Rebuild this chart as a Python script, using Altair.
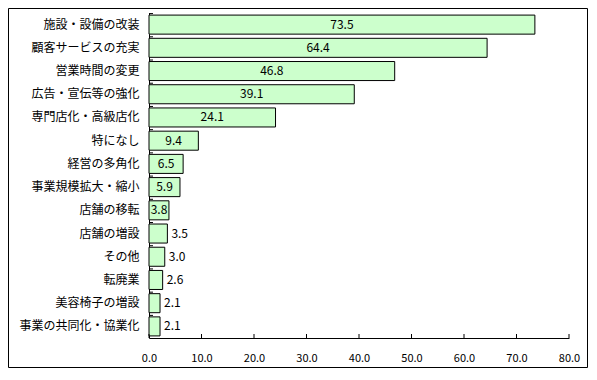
import altair as alt
import pandas as pd

categories = [
    "施設・設備の改装",
    "顧客サービスの充実",
    "営業時間の変更",
    "広告・宣伝等の強化",
    "専門店化・高級店化",
    "特になし",
    "経営の多角化",
    "事業規模拡大・縮小",
    "店舗の移転",
    "店舗の増設",
    "その他",
    "転廃業",
    "美容椅子の増設",
    "事業の共同化・協業化",
]
values = [73.5, 64.4, 46.8, 39.1, 24.1, 9.4, 6.5, 5.9, 3.8, 3.5, 3.0, 2.6, 2.1, 2.1]
x_ticks = [0, 10, 20, 30, 40, 50, 60, 70, 80]

FONT = "Noto Sans CJK JP"
W, H = 420, 325
PAD_L, PAD_T, PAD_R, PAD_B = 141, 5, 19, 30
TOTAL_W = PAD_L + W + PAD_R
TOTAL_H = PAD_T + H + PAD_B

df = pd.DataFrame({"item": categories, "value": values})
base = alt.Chart(df)

y_scale = alt.Scale(paddingInner=0.18, paddingOuter=0.09)
y_enc = alt.Y(
    "item:N",
    sort=categories,
    scale=y_scale,
    axis=alt.Axis(title=None, ticks=False, labelPadding=10, labelFontSize=12,
                  labelColor="black", labelFont=FONT),
)

x_scale = alt.Scale(domain=[0, 80], nice=False)

bars = base.mark_bar(fill="#CCFFCC", stroke="black", strokeWidth=1).encode(
    x=alt.X("value:Q", scale=x_scale,
            axis=alt.Axis(values=x_ticks, format=".1f", ticks=False, grid=False,
                          title=None, labelPadding=14, labelFontSize=11,
                          labelFlush=False, labelColor="black", labelFont=FONT)),
    y=y_enc,
)

text_in = base.transform_filter("datum.value >= 3.8").transform_calculate(
    mid="datum.value / 2"
).mark_text(font=FONT, fontSize=12, color="black").encode(
    x=alt.X("mid:Q", scale=x_scale, title=None),
    y=alt.Y("item:N", sort=categories),
    text=alt.Text("value:Q", format=".1f"),
)

text_out = base.transform_filter("datum.value < 3.8").mark_text(
    font=FONT, fontSize=12, color="black", align="left", dx=4
).encode(
    x=alt.X("value:Q", scale=x_scale, title=None),
    y=alt.Y("item:N", sort=categories),
    text=alt.Text("value:Q", format=".1f"),
)

x_tick_rules = alt.Chart(pd.DataFrame({"t": x_ticks})).mark_rule(
    color="black", strokeWidth=1
).encode(
    x=alt.X("t:Q", scale=x_scale, title=None),
    y=alt.value(H - 4),
    y2=alt.value(H),
)

y_tick_rules = base.mark_rule(color="black", strokeWidth=1, yOffset=-1.5).encode(
    y=alt.Y("item:N", sort=categories, bandPosition=0),
    x=alt.value(0),
    x2=alt.value(4),
)

border = alt.Chart(pd.DataFrame({"a": [0]})).mark_rect(
    fillOpacity=0, fill="white", stroke="black", strokeWidth=1
).encode(
    x=alt.value(-PAD_L + 0.5),
    x2=alt.value(TOTAL_W - PAD_L - 0.5),
    y=alt.value(-PAD_T + 0.5),
    y2=alt.value(TOTAL_H - PAD_T - 0.5),
)

chart = alt.layer(border, bars, x_tick_rules, y_tick_rules, text_in, text_out).properties(
    width=W,
    height=H,
    padding={"left": PAD_L, "top": PAD_T, "right": PAD_R, "bottom": PAD_B},
    autosize=alt.AutoSizeParams(type="none"),
    background="white",
).configure_view(stroke=None).configure_axis(
    domainColor="black", domainWidth=1, labelFont=FONT
)

chart.save("out.html", embed_options={"renderer": "svg", "actions": False})
